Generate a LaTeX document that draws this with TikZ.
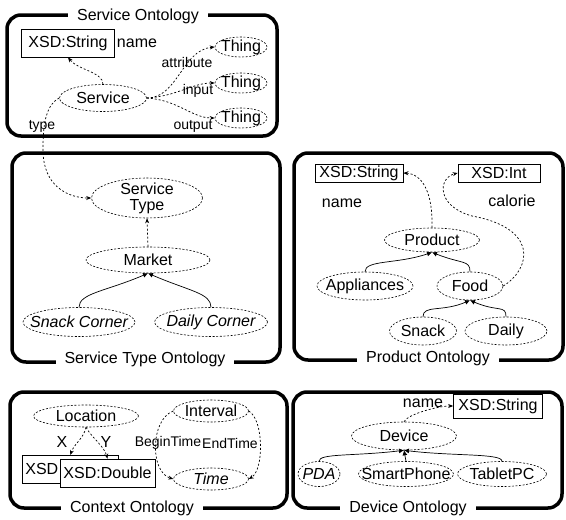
\documentclass[tikz,border=0pt]{standalone}
\usepackage{fontspec}
\setmainfont{Liberation Sans}
\usetikzlibrary{shapes.geometric,arrows.meta}

\tikzset{
  frame/.style={line width=3.5pt, rounded corners=14pt},
  frametitle/.style={fill=white, inner xsep=9pt, inner ysep=1pt, font=\fontsize{16}{18}\selectfont},
  onto/.style={ellipse, draw, dash pattern=on 2pt off 1.6pt, line width=0.6pt, inner xsep=-14pt, inner ysep=-6pt, font=\fontsize{16}{18}\selectfont},
  xsd/.style={draw, rectangle, line width=0.7pt, inner sep=0pt, font=\fontsize{16}{18}\selectfont},
  rel/.style={dash pattern=on 2pt off 2pt, line width=0.7pt, -{Stealth[length=5pt,width=4pt]}},
  isa/.style={line width=0.7pt, -{Latex[length=5pt,width=5pt]}},
  lbl/.style={inner sep=0.5pt, font=\fontsize{14}{16}\selectfont},
  biglbl/.style={inner sep=0.5pt, font=\fontsize{16}{18}\selectfont},
}

\begin{document}
\begin{tikzpicture}[x=1pt,y=1pt,yscale=-1,xscale=1]
\useasboundingbox (0,0) rectangle (566,520);

%Shape: Frames
\draw [frame] (7,15) rectangle (277,136);
\draw [frame] (12,153) rectangle (280,362);
\draw [frame] (294,153) rectangle (563,360);
\draw [frame] (10,392) rectangle (287,508);
\draw [frame] (293,392) rectangle (562,508);

% Text Node: frame titles
\node [frametitle] (tservice) at (138,16) {Service Ontology};
\node [frametitle] (tstype) at (145,359) {Service Type Ontology};
\node [frametitle] (tproduct) at (428,358) {Product Ontology};
\node [frametitle] (tcontext) at (132,508) {Context Ontology};
\node [frametitle] (tdevice) at (408,508) {Device Ontology};

%Service Ontology
\node [xsd, minimum width=93pt, minimum height=28pt] (sstring) at (68,43) {XSD:String};
\node [biglbl] (sname) at (137,43) {name};
\node [onto, minimum width=87pt, minimum height=27pt] (service) at (103,98) {Service};
\node [onto, minimum width=52pt, minimum height=20pt] (thinga) at (241,47) {Thing};
\node [onto, minimum width=52pt, minimum height=20pt] (thingi) at (241,83) {Thing};
\node [onto, minimum width=52pt, minimum height=20pt] (thingo) at (241,118) {Thing};
\node [lbl] (lattr) at (187,62) {attribute};
\node [lbl] (linput) at (198,91) {input};
\node [lbl] (loutput) at (193,126) {output};
\node [lbl] (ltype) at (42,126) {type};

\draw [rel] (service.north) .. controls (103,72) and (78,70) .. (sstring.south);
\draw [rel] (service.east) .. controls (178,98) and (182,50) .. (thinga.west);
\draw [rel] (service.east) .. controls (178,96) and (192,83) .. (thingi.west);
\draw [rel] (service.east) .. controls (178,100) and (192,118) .. (thingo.west);

%Service Type Ontology
\node [onto, minimum width=111pt, minimum height=40pt, align=center] (stype) at (147,198) {Service\\[-2pt]Type};
\node [onto, minimum width=124pt, minimum height=26pt] (market) at (148,260) {Market};
\node [onto, minimum width=112pt, minimum height=29pt, font=\fontsize{16}{18}\selectfont\itshape] (snackcorner) at (79,322) {Snack Corner};
\node [onto, minimum width=113pt, minimum height=29pt, font=\fontsize{16}{18}\selectfont\itshape] (dailycorner) at (211,322) {Daily Corner};

\coordinate (typebend) at (43,150);
\draw [rel] (service.west) .. controls (44,106) and (43,130) .. (typebend) .. controls (43,186) and (68,198) .. (stype.west);
\draw [rel] (market.north) -- (stype.south);
\draw [isa] (snackcorner.north) .. controls +(0,-14) and +(-42,18) .. (market.south);
\draw [isa] (dailycorner.north) .. controls +(0,-14) and +(42,18) .. (market.south);

%Product Ontology
\node [xsd, minimum width=88pt, minimum height=18pt] (pstring) at (359,173) {XSD:String};
\node [xsd, minimum width=82pt, minimum height=18pt] (pint) at (499,173) {XSD:Int};
\node [biglbl] (pname) at (342,203) {name};
\node [biglbl] (pcalorie) at (512,201) {calorie};
\node [onto, minimum width=95pt, minimum height=24pt] (product) at (432,240) {Product};
\node [onto, minimum width=96pt, minimum height=28pt] (appliances) at (365,286) {Appliances};
\node [onto, minimum width=66pt, minimum height=28pt] (food) at (470,286) {Food};
\node [onto, minimum width=67pt, minimum height=28pt] (snack) at (423,331) {Snack};
\node [onto, minimum width=82pt, minimum height=28pt] (daily) at (506,331) {Daily};

\draw [rel] (product.north) .. controls (433,192) and (422,174) .. (pstring.east);
\coordinate (caloriebend) at (472,216);
\draw [rel] (food.east) .. controls (532,268) and (538,228) .. (caloriebend) .. controls (436,206) and (438,178) .. (pint.west);
\draw [isa] (appliances.north) .. controls +(0,-12) and +(-35,12) .. (product.south);
\draw [isa] (food.north) .. controls +(0,-12) and +(30,12) .. (product.south);
\draw [isa] (snack.north) .. controls +(0,-12) and +(-28,12) .. (food.south);
\draw [isa] (daily.north) .. controls +(0,-12) and +(28,12) .. (food.south);

%Context Ontology
\node [onto, minimum width=105pt, minimum height=22pt] (location) at (86,416) {Location};
\node [xsd, anchor=north west, minimum height=28pt, text width=90pt, inner xsep=3pt, align=left] (xsdback) at (22,455) {XSD};
\node [xsd, fill=white, minimum width=95pt, minimum height=28pt] (xsddouble) at (107.5,473) {XSD:Double};
\node [biglbl] (lx) at (62,442) {X};
\node [biglbl] (ly) at (106,442) {Y};
\node [onto, minimum width=75pt, minimum height=22pt] (interval) at (211,411) {Interval};
\node [onto, minimum width=75pt, minimum height=22pt, font=\fontsize{16}{18}\selectfont\itshape] (time) at (211,479) {Time};
\node [lbl] (lbegin) at (168,443) {BeginTime};
\node [lbl] (lend) at (230,443) {EndTime};

\draw [rel] (location.south) .. controls (84,438) and (74,444) .. (xsdback.north);
\draw [rel] (location.south) .. controls (92,438) and (104,446) .. (xsddouble.north);
\draw [rel] (interval.west) .. controls (150,420) and (150,472) .. (time.west);
\draw [rel] (interval.east) .. controls (264,420) and (264,470) .. (time.east);

%Device Ontology
\node [xsd, minimum width=89pt, minimum height=24pt] (dstring) at (498,406) {XSD:String};
\node [biglbl] (dname) at (423,403) {name};
\node [onto, minimum width=105pt, minimum height=28pt] (device) at (404,436) {Device};
\node [onto, minimum width=42pt, minimum height=25pt, font=\fontsize{16}{18}\selectfont\itshape] (pda) at (319,474) {PDA};
\node [onto, minimum width=95pt, minimum height=25pt] (smartphone) at (406,474) {SmartPhone};
\node [onto, minimum width=89pt, minimum height=25pt] (tablet) at (502,474) {TabletPC};

\draw [rel] (device.north) .. controls (408,414) and (438,406) .. (dstring.west);
\draw [isa] (pda.north) .. controls +(0,-8) and +(-50,6) .. (device.south);
\draw [isa] (smartphone.north) -- (device.south);
\draw [isa] (tablet.north) .. controls +(0,-8) and +(50,6) .. (device.south);

\end{tikzpicture}
\end{document}
